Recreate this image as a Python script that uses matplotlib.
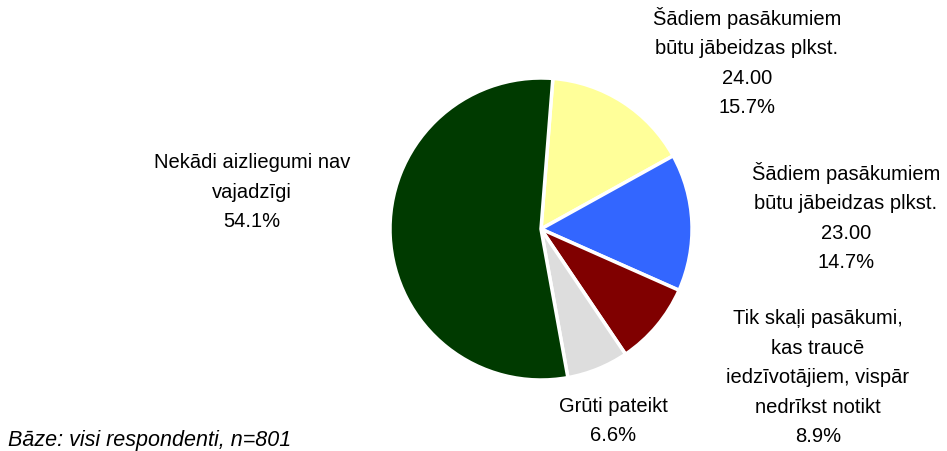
import matplotlib.pyplot as plt

labels = [
    "Šādiem pasākumiem\nbūtu jābeidzas plkst.\n24.00",
    "Šādiem pasākumiem\nbūtu jābeidzas plkst.\n23.00",
    "Tik skaļi pasākumi,\nkas traucē\niedzīvotājiem, vispār\nnedrīkst notikt",
    "Grūti pateikt",
    "Nekādi aizliegumi nav\nvajadzīgi",
]
shares = [15.7, 14.7, 8.9, 6.6, 54.1]
colors = ["#FFFF99", "#3366FF", "#800000", "#DDDDDD", "#003A00"]
explode = [0.04, 0.04, 0.04, 0.04, 0.0]

# label anchor points in figure pixels (x, y from top)
label_pos = [(747, 62), (846, 217), (818, 378), (613, 421), (252, 192)]


def main():
    plt.rcParams['font.family'] = ['Liberation Sans', 'DejaVu Sans']
    fig = plt.figure(figsize=(9.47, 4.52), dpi=100)
    ax = fig.add_axes([0, 0, 1, 1])

    ax.pie(shares, colors=colors, explode=explode, startangle=85.5,
           counterclock=False, center=(541, 222), radius=151,
           wedgeprops=dict(edgecolor='white', linewidth=2.5),
           frame=True)
    ax.set_xlim(0, 947)
    ax.set_ylim(0, 452)
    ax.set_aspect('equal')
    ax.axis('off')

    for lab, val, (x, y) in zip(labels, shares, label_pos):
        ax.text(x, 452 - y, f"{lab}\n{val:.1f}%", ha='center', va='center',
                fontsize=14.5, linespacing=1.7, color='black')

    ax.text(8, 452 - 441, "Bāze: visi respondenti, n=801", ha='left',
            va='center', fontsize=15.5, style='italic')

    fig.savefig("out.png", dpi=100)


if __name__ == '__main__':
    main()
